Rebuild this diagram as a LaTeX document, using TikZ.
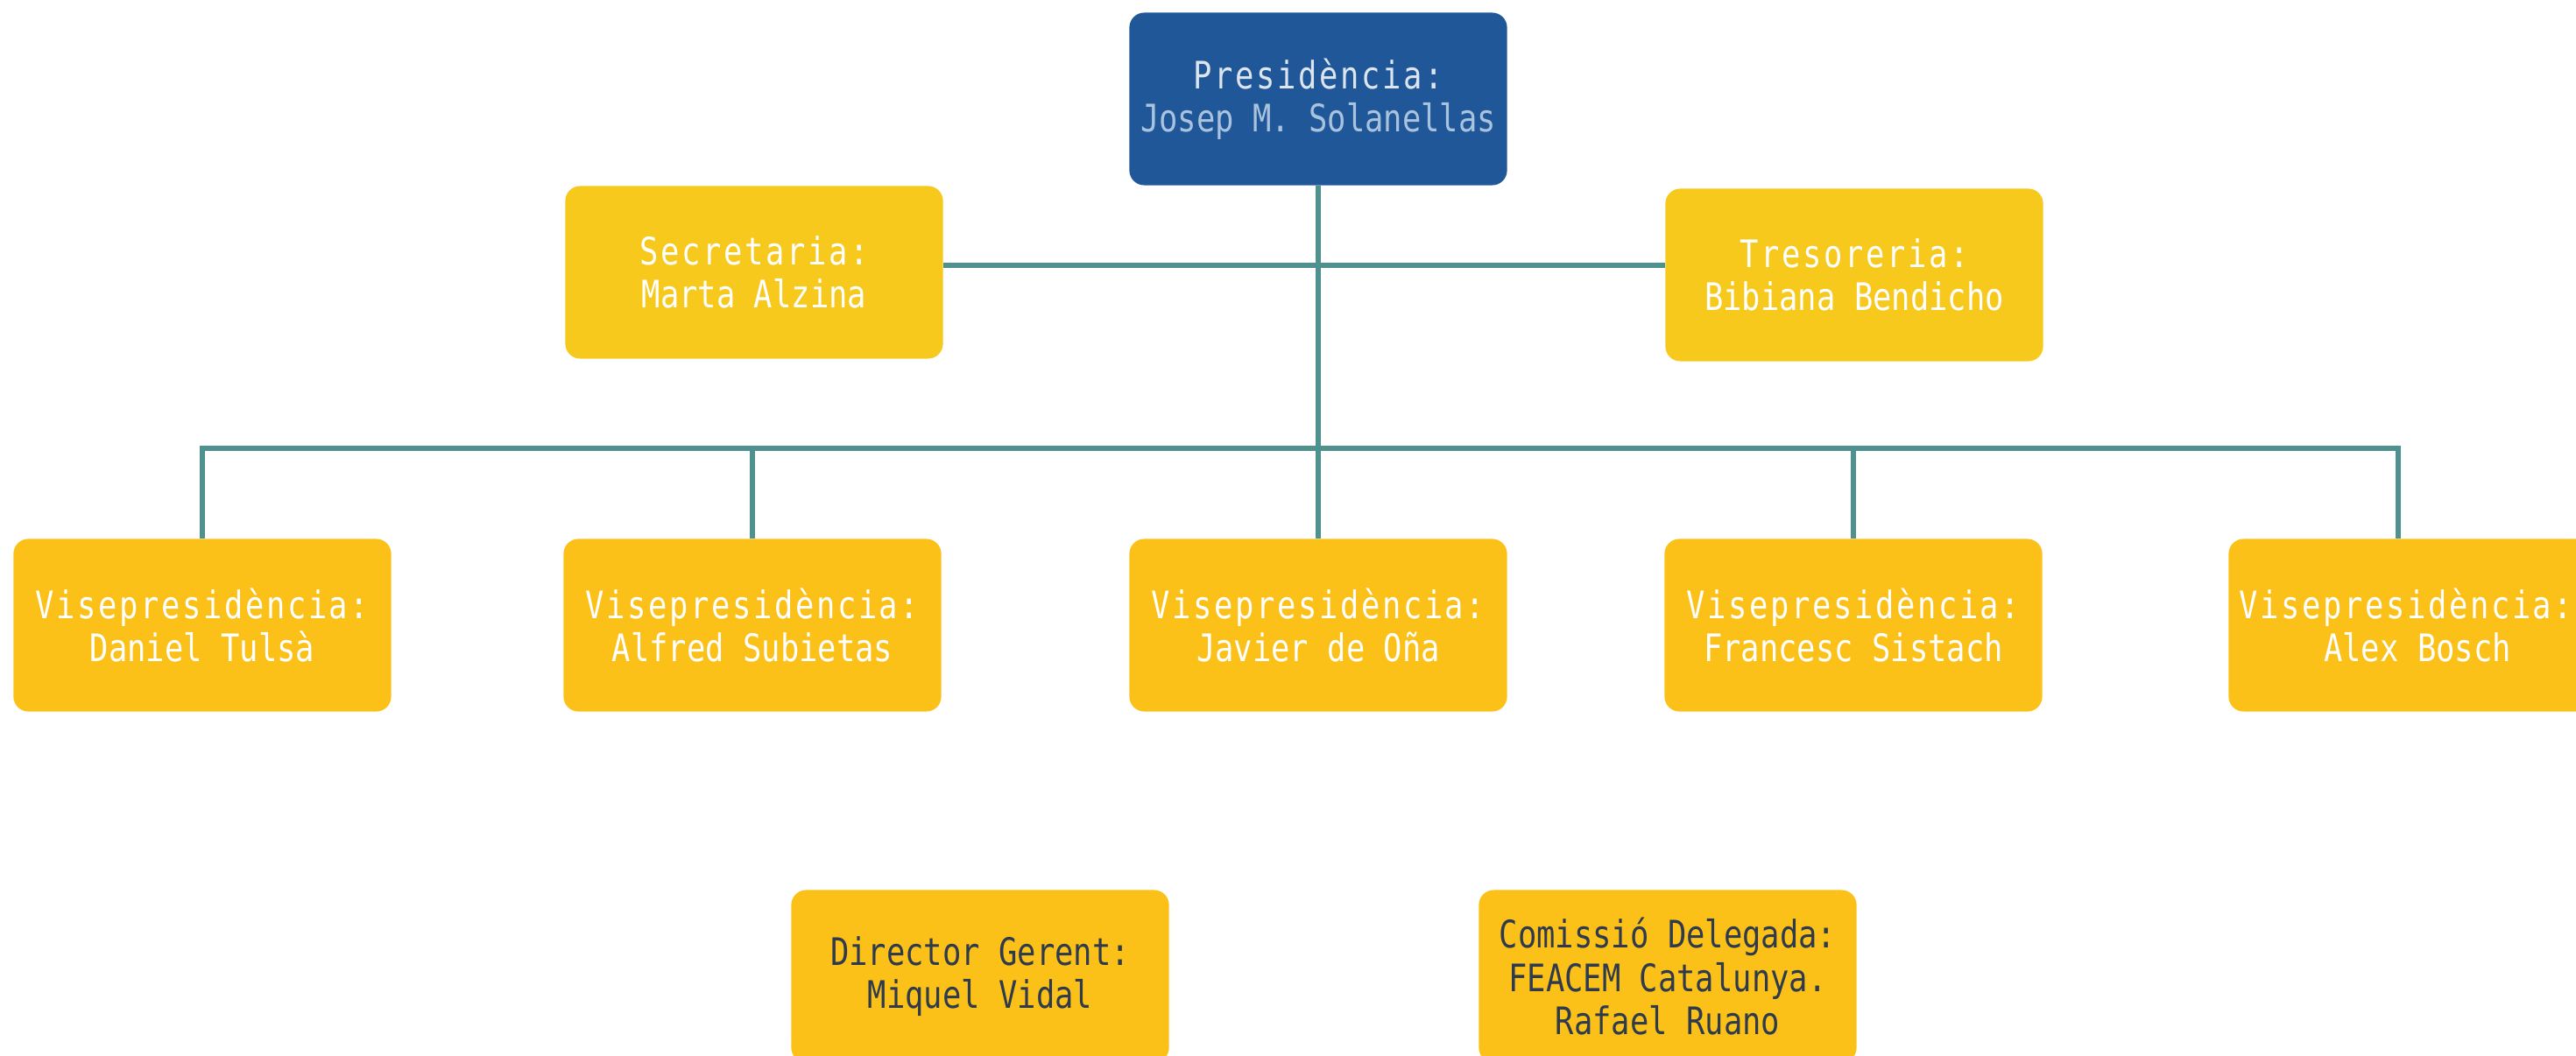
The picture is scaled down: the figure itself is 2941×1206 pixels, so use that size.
\documentclass[tikz,border=0pt]{standalone}
\usepackage{fontspec}
\usepackage{tikz}
\usetikzlibrary{positioning}
\newfontfamily\orgfont[FakeStretch=0.82]{DejaVu Sans Mono}
\definecolor{presblue}{HTML}{1F5799}
\definecolor{preslight}{HTML}{DCE4EE}
\definecolor{presname}{HTML}{A9C2DE}
\definecolor{offyellow}{HTML}{F7C91C}
\definecolor{viceyellow}{HTML}{FBC118}
\definecolor{staffgrey}{HTML}{2F3B4C}
\definecolor{linkteal}{HTML}{4F918F}
\newcommand{\role}[1]{{\addfontfeatures{LetterSpace=6}#1}}

\begin{document}
\begin{tikzpicture}[x=0.01cm,y=-0.01cm]
\tikzstyle{every node}=[rounded corners=0.17cm,minimum width=4.31cm,minimum height=1.97cm,
inner sep=0pt,align=center,font=\orgfont\fontsize{12.3}{14}\selectfont]
\tikzstyle{chair}=[fill=presblue,text=preslight]
\tikzstyle{officer}=[fill=offyellow,text=white]
\tikzstyle{vice}=[fill=viceyellow,text=white]
\tikzstyle{staff}=[fill=viceyellow,text=staffgrey]
\tikzstyle{link}=[draw=linkteal,line width=1.7pt]
\useasboundingbox (0,0) rectangle (2941,1206);

% board
\node[chair] (pres) at (1505,113) {\role{Presidència:}\\\textcolor{presname}{Josep M. Solanellas}};
\node[officer] (secr) at (861,311) {\role{Secretaria:}\\Marta Alzina};
\node[officer] (treas) at (2117,314) {\role{Tresoreria:}\\Bibiana Bendicho};

% vice presidents
\node[vice] (vp1) at (231,714) {\role{Visepresidència:}\\Daniel Tulsà};
\node[vice] (vp2) at (859,714) {\role{Visepresidència:}\\Alfred Subietas};
\node[vice] (vp3) at (1505,714) {\role{Visepresidència:}\\Javier de Oña};
\node[vice] (vp4) at (2116,714) {\role{Visepresidència:}\\Francesc Sistach};
\node[vice] (vp5) at (2760,714) {\role{Visepresidència:}\hspace*{0.26cm}\\Alex Bosch};

% management
\node[staff] (dir) at (1119,1115) {Director Gerent:\\Miquel Vidal};
\node[staff] (com) at (1904,1115) {Comissió Delegada:\\FEACEM Catalunya.\\Rafael Ruano};

\coordinate (hub) at (1505,303);
\coordinate (bus) at (1505,512);
\coordinate (vp5in) at ([xshift=-0.22cm]vp5.north);

\draw[link] (pres) -- (vp3);
\draw[link] (secr.east |- hub) -- (treas.west |- hub);
\draw[link] (vp1.north) |- (bus) -| (vp5in);
\foreach \v in {vp2,vp4}
\draw[link] (\v.north) -- (\v.north |- bus);
\end{tikzpicture}
\end{document}
